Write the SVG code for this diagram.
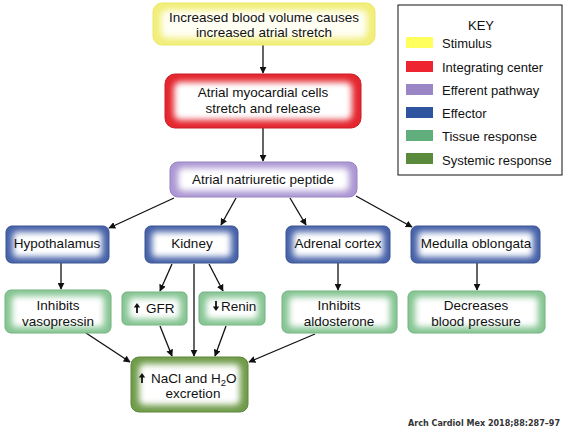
<svg xmlns="http://www.w3.org/2000/svg" width="567" height="436" viewBox="0 0 567 436">
<style>
text{font-family:"Liberation Sans",Arial,sans-serif;font-size:13.5px;fill:#111}
.c{text-anchor:middle}
.glow{fill:#fff;filter:url(#blur)}
.yel{fill:#f1ee78;stroke:#ece86a;stroke-width:1}
.red{fill:#e4262f;stroke:#c81f27;stroke-width:1}
.pur{fill:#ab97d2;stroke:#9582c2;stroke-width:1}
.blu{fill:#4561a8;stroke:#38528f;stroke-width:1}
.grn{fill:#86c593;stroke:#72b27f;stroke-width:1}
.sys{fill:#6f9b4a;stroke:#5c873b;stroke-width:1}
.conn line{stroke:#111;stroke-width:1.3;marker-end:url(#ah)}
.sym{fill:#111;stroke:#111;stroke-width:1.6}
.key text{font-size:13px}
.cite{font-family:"DejaVu Sans",Verdana,sans-serif;font-size:8.5px;font-weight:bold;fill:#333}
</style>
<defs>
<filter id="blur" x="-30%" y="-60%" width="160%" height="220%"><feGaussianBlur stdDeviation="3"/></filter>
<marker id="ah" viewBox="0 0 10 10" refX="9" refY="5" markerWidth="7" markerHeight="7" markerUnits="userSpaceOnUse" orient="auto"><path d="M0,0 L10,5 L0,10 Z" fill="#111"/></marker>
<g id="up"><line x1="0" y1="3" x2="0" y2="10" stroke="#111" stroke-width="1.8"/><path d="M-3.2,4.5 L0,0 L3.2,4.5 Z" fill="#111"/></g>
</defs>
<rect width="567" height="436" fill="#fff"/>

<g class="conn">
<line x1="263" y1="45" x2="263" y2="73"/>
<line x1="263" y1="128" x2="263" y2="161"/>
<line x1="174" y1="198" x2="109" y2="228"/>
<line x1="236" y1="198" x2="221" y2="225"/>
<line x1="290" y1="198" x2="306" y2="225"/>
<line x1="356" y1="196" x2="412" y2="227"/>
<line x1="61" y1="263" x2="61" y2="289"/>
<line x1="172" y1="264" x2="160" y2="291"/>
<line x1="209" y1="264" x2="223" y2="291"/>
<line x1="194" y1="264" x2="194" y2="356"/>
<line x1="338" y1="263" x2="338" y2="290"/>
<line x1="477" y1="263" x2="477" y2="290"/>
<line x1="86" y1="333" x2="130" y2="362"/>
<line x1="160" y1="326" x2="172" y2="356"/>
<line x1="226" y1="326" x2="215" y2="356"/>
<line x1="315" y1="334" x2="249" y2="362"/>
</g>

<g id="stimulus">
<rect class="yel" x="153" y="3" width="222" height="42" rx="9"/>
<rect class="glow" x="161" y="10" width="206" height="28" rx="6" style="fill:#fffff4"/>
<text class="c" x="264" y="22">Increased blood volume causes</text>
<text class="c" x="264" y="37">increased atrial stretch</text>
</g>

<g id="myocardial">
<rect class="red" x="165" y="74" width="196" height="54" rx="10"/>
<rect class="glow" x="174" y="82" width="178" height="38" rx="6"/>
<text class="c" x="263" y="97">Atrial myocardial cells</text>
<text class="c" x="263" y="113">stretch and release</text>
</g>

<g id="anp">
<rect class="pur" x="170" y="162" width="187" height="35" rx="8"/>
<rect class="glow" x="178" y="168" width="171" height="23" rx="5"/>
<text class="c" x="263" y="184">Atrial natriuretic peptide</text>
</g>

<g id="hypothalamus">
<rect class="blu" x="6" y="226" width="103" height="37" rx="6"/>
<rect class="glow" x="13" y="232" width="89" height="25" rx="4"/>
<text class="c" x="57" y="248">Hypothalamus</text>
</g>
<g id="kidney">
<rect class="blu" x="145" y="226" width="93" height="37" rx="6"/>
<rect class="glow" x="152" y="232" width="79" height="25" rx="4"/>
<text class="c" x="192" y="248">Kidney</text>
</g>
<g id="adrenal">
<rect class="blu" x="286" y="226" width="104" height="37" rx="6"/>
<rect class="glow" x="293" y="232" width="90" height="25" rx="4"/>
<text class="c" x="338" y="248">Adrenal cortex</text>
</g>
<g id="medulla">
<rect class="blu" x="411" y="226" width="129" height="37" rx="6"/>
<rect class="glow" x="418" y="232" width="115" height="25" rx="4"/>
<text class="c" x="476" y="248">Medulla oblongata</text>
</g>

<g id="vasopressin">
<rect class="grn" x="5" y="290" width="106" height="43" rx="6"/>
<rect class="glow" x="12" y="296" width="92" height="31" rx="4"/>
<text class="c" x="58" y="310">Inhibits</text>
<text class="c" x="58" y="326">vasopressin</text>
</g>
<g id="gfr">
<rect class="grn" x="122" y="292" width="65" height="33" rx="5"/>
<rect class="glow" x="129" y="298" width="51" height="21" rx="4"/>
<use href="#up" x="137" y="303"/>
<text x="146" y="313">GFR</text>
</g>
<g id="renin">
<rect class="grn" x="199" y="292" width="66" height="33" rx="5"/>
<rect class="glow" x="206" y="298" width="52" height="21" rx="4"/>
<use href="#up" transform="translate(216,311) scale(1,-1)"/>
<text x="221" y="311">Renin</text>
</g>
<g id="aldosterone">
<rect class="grn" x="282" y="291" width="115" height="42" rx="6"/>
<rect class="glow" x="289" y="297" width="101" height="30" rx="4"/>
<text class="c" x="339" y="310">Inhibits</text>
<text class="c" x="339" y="326">aldosterone</text>
</g>
<g id="bloodpressure">
<rect class="grn" x="408" y="291" width="137" height="42" rx="6"/>
<rect class="glow" x="415" y="297" width="123" height="30" rx="4"/>
<text class="c" x="476" y="310">Decreases</text>
<text class="c" x="476" y="326">blood pressure</text>
</g>

<g id="excretion">
<rect class="sys" x="131" y="357" width="117" height="55" rx="8"/>
<rect class="glow" x="139" y="364" width="101" height="41" rx="5"/>
<use href="#up" x="142" y="373"/>
<text x="151" y="383">NaCl and H<tspan font-size="9.5" dy="3">2</tspan><tspan dy="-3">O</tspan></text>
<text class="c" x="193" y="398">excretion</text>
</g>

<g id="key" class="key">
<rect x="398" y="5" width="164" height="170" fill="#fff" stroke="#111" stroke-width="1"/>
<text class="c" x="481" y="30">KEY</text>
<rect x="406" y="37" width="27" height="11" fill="#ffff5e"/>
<text x="442" y="48">Stimulus</text>
<rect x="406" y="61" width="27" height="11" fill="#ee2430"/>
<text x="442" y="72">Integrating center</text>
<rect x="406" y="84" width="27" height="11" fill="#9a86c4"/>
<text x="442" y="95">Efferent pathway</text>
<rect x="406" y="107" width="27" height="11" fill="#2f549f"/>
<text x="442" y="118">Effector</text>
<rect x="406" y="130" width="27" height="11" fill="#5fae7b"/>
<text x="442" y="141">Tissue response</text>
<rect x="406" y="153" width="27" height="11" fill="#5a8b3c"/>
<text x="442" y="165">Systemic response</text>
</g>

<text class="cite" x="408" y="426" textLength="152" lengthAdjust="spacingAndGlyphs">Arch Cardiol Mex 2018;88:287–97</text>
</svg>
